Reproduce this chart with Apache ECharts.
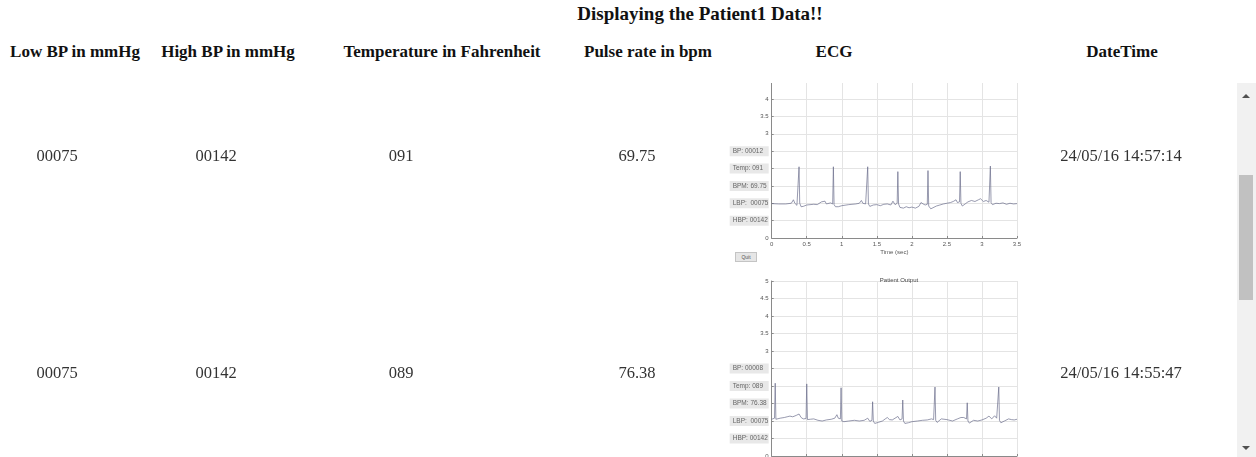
<!DOCTYPE html>
<html><head><meta charset="utf-8">
<script src="https://cdn.jsdelivr.net/npm/echarts@6/dist/echarts.min.js"></script>
<style>
html,body{margin:0;padding:0;width:1256px;height:457px;overflow:hidden;background:#fff;font-family:"Liberation Serif","DejaVu Serif",serif;}
.t{position:absolute;white-space:nowrap;transform:translate(-50%,-50%);}
.hdr{font-weight:bold;font-size:17px;color:#111;}
.ttl{font-weight:bold;font-size:19px;color:#111;}
.val{font-size:16.5px;color:#333;}
#scroll{position:absolute;left:0;top:83px;width:1236px;height:374px;overflow:hidden;}
#chart{position:absolute;left:0;top:-83px;width:1236px;height:560px;}
#quit{position:absolute;left:735px;top:169px;width:20px;height:8px;background:#e6e6e6;border:1px solid #c4c4c4;font:5px "Liberation Sans",sans-serif;color:#555;text-align:center;line-height:8px;}
#sb{position:absolute;left:1237px;top:83px;width:19px;height:374px;background:#f1f1f1;}
#thumb{position:absolute;left:2px;top:92px;width:14px;height:125px;background:#c1c1c1;}
.arr{position:absolute;left:5px;width:0;height:0;border-left:4px solid transparent;border-right:4px solid transparent;}
</style></head>
<body>
<div id="scroll"><div id="chart"></div><div id="quit">Quit</div></div>
<div id="sb"><div class="arr" style="top:11px;border-bottom:4px solid #505050;"></div><div id="thumb"></div><div class="arr" style="top:363px;border-top:4px solid #505050;"></div></div>
<script>
// ---- Data ----
const pageTitle = 'Displaying the Patient1 Data!!';
const headers = ['Low BP in mmHg', 'High BP in mmHg', 'Temperature in Fahrenheit', 'Pulse rate in bpm', 'ECG', 'DateTime'];
const lowBP = ['00075', '00075'];
const highBP = ['00142', '00142'];
const temperature = ['091', '089'];
const pulseRate = ['69.75', '76.38'];
const dateTimes = ['24/05/16 14:57:14', '24/05/16 14:55:47'];
const bpReadings = ['00012', '00008'];
const chartTitle = 'Patient Output';

const ecg1 = [[0.00,0.99],[0.10,0.98],[0.20,0.98],[0.28,1.00],[0.31,1.10],[0.33,1.00],[0.36,0.94],[0.38,0.97],[0.39,2.05],[0.40,1.00],
[0.42,0.90],[0.45,0.91],[0.50,0.95],[0.60,0.97],[0.65,0.96],[0.71,1.04],[0.73,0.99],[0.76,1.06],[0.78,0.98],[0.84,1.01],
[0.87,0.98],[0.88,2.05],[0.89,0.96],[0.91,0.90],[0.95,0.90],[1.00,0.93],[1.10,0.96],[1.20,0.98],[1.25,1.00],[1.28,1.08],
[1.30,1.00],[1.34,0.98],[1.36,1.02],[1.37,2.05],[1.38,0.98],[1.40,0.91],[1.45,0.95],[1.50,0.96],[1.55,0.93],[1.60,0.97],
[1.65,0.98],[1.70,0.95],[1.73,1.06],[1.76,0.96],[1.79,1.00],[1.80,1.91],[1.81,0.98],[1.83,0.88],[1.88,0.86],[1.92,0.90],
[1.96,0.87],[2.00,0.89],[2.05,0.86],[2.10,0.91],[2.13,1.02],[2.16,0.98],[2.19,0.95],[2.22,0.97],[2.23,1.94],[2.24,0.92],
[2.27,0.84],[2.30,0.87],[2.35,0.92],[2.40,0.95],[2.45,0.98],[2.50,1.00],[2.55,1.02],[2.59,1.05],[2.63,1.10],[2.65,1.02],
[2.68,1.04],[2.69,1.91],[2.70,1.00],[2.72,0.92],[2.76,0.98],[2.80,1.04],[2.85,1.08],[2.90,1.05],[2.95,1.10],[2.98,1.13],
[3.02,1.05],[3.06,1.08],[3.10,1.03],[3.12,2.07],[3.13,1.02],[3.15,0.96],[3.20,1.00],[3.25,0.99],[3.30,1.01],[3.35,0.97],
[3.40,1.00],[3.45,0.98],[3.50,0.99]];

const ecg2 = [[0.00,1.05],[0.04,1.08],[0.05,2.08],[0.06,1.05],[0.08,1.10],[0.12,1.08],[0.18,1.10],[0.22,1.12],[0.26,1.14],[0.30,1.12],
[0.35,1.16],[0.39,1.20],[0.42,1.10],[0.45,1.06],[0.49,1.07],[0.50,2.06],[0.51,1.04],[0.55,1.05],[0.60,1.06],[0.66,1.02],
[0.72,1.00],[0.78,1.03],[0.85,1.05],[0.90,1.08],[0.93,1.18],[0.95,1.08],[0.98,1.06],[0.99,1.95],[1.00,1.00],[1.03,0.98],
[1.10,1.00],[1.18,1.02],[1.25,1.00],[1.32,1.02],[1.37,1.08],[1.40,0.99],[1.43,1.02],[1.44,1.55],[1.45,1.00],[1.47,0.93],
[1.52,0.96],[1.58,1.00],[1.62,1.06],[1.65,1.10],[1.68,1.04],[1.72,1.03],[1.76,1.08],[1.80,1.13],[1.83,1.03],[1.86,1.06],
[1.87,1.60],[1.88,1.00],[1.90,0.93],[1.95,0.95],[2.00,0.98],[2.08,1.00],[2.15,1.02],[2.22,1.03],[2.28,1.06],[2.31,1.04],
[2.33,1.97],[2.34,1.02],[2.36,0.96],[2.42,1.06],[2.50,1.04],[2.58,1.00],[2.65,1.06],[2.70,1.10],[2.74,1.10],[2.78,1.06],
[2.79,1.52],[2.80,1.00],[2.82,0.94],[2.88,1.02],[2.94,1.00],[3.00,1.03],[3.06,1.08],[3.10,1.14],[3.14,1.06],[3.18,1.15],
[3.21,1.08],[3.23,1.03],[3.24,1.97],[3.25,1.02],[3.27,0.95],[3.32,1.00],[3.38,1.06],[3.42,1.04],[3.46,1.03],[3.50,1.05]];

// ---- HTML table text ----
function addText(parent, cls, text, x, y) {
  const d = document.createElement('div');
  d.className = 't ' + cls; d.textContent = text;
  d.style.left = x + 'px'; d.style.top = y + 'px';
  parent.appendChild(d);
}
addText(document.body, 'ttl', pageTitle, 700, 14);
const headerX = [75, 228, 442, 648, 834, 1122];
headers.forEach((h, i) => addText(document.body, 'hdr', h, headerX[i], 52));
const scroll = document.getElementById('scroll');
const rowY = [156 - 83, 373 - 83];
const valX = [57, 216, 401, 637, 1121];
for (let r = 0; r < 2; r++) {
  [lowBP[r], highBP[r], temperature[r], pulseRate[r], dateTimes[r]].forEach((v, i) => addText(scroll, 'val', v, valX[i], rowY[r]));
}

// ---- ECharts ----
function boxMap(r) {
  return {
    '2.5': 'BP: ' + bpReadings[r],
    '2': 'Temp: ' + temperature[r],
    '1.5': 'BPM: ' + pulseRate[r],
    '1': 'LBP:  ' + lowBP[r],
    '0.5': 'HBP: ' + highBP[r]
  };
}
const gridCol = '#e4e4e4';
function xAx(i) {
  return {
    type: 'value', gridIndex: i, min: 0, max: 3.5, interval: 0.5,
    axisLine: { lineStyle: { color: '#8a8a8a', width: 1 } },
    axisTick: { inside: true, length: 2, lineStyle: { color: '#8a8a8a' } },
    axisLabel: { fontSize: 6, color: '#555', margin: 3, fontFamily: 'Liberation Sans' },
    splitLine: { show: true, lineStyle: { color: gridCol, width: 1 } },
    name: 'Time (sec)', nameLocation: 'middle', nameGap: 11,
    nameTextStyle: { fontSize: 6, color: '#555', fontFamily: 'Liberation Sans' }
  };
}
function yAx(i) {
  const m = boxMap(i);
  return {
    type: 'value', gridIndex: i, min: 0, max: 5, interval: 0.5,
    axisLine: { show: true, lineStyle: { color: '#8a8a8a', width: 1 } },
    axisTick: { show: true, inside: true, length: 2, lineStyle: { color: '#8a8a8a' } },
    splitLine: { show: true, lineStyle: { color: gridCol, width: 1 } },
    axisLabel: {
      margin: 3, fontFamily: 'Liberation Sans',
      formatter: v => m[String(v)] ? '{box|' + m[String(v)] + '}' : '{n|' + v + '}',
      rich: {
        box: { backgroundColor: '#e8e8e8', color: '#666', fontSize: 6.5, width: 34, height: 8, lineHeight: 8, padding: [1, 2, 1, 3], align: 'left', fontFamily: 'Liberation Sans' },
        n: { fontSize: 6, color: '#555', fontFamily: 'Liberation Sans' }
      }
    }
  };
}
const chart = echarts.init(document.getElementById('chart'), null, { renderer: 'canvas' });
chart.setOption({
  animation: false,
  title: [
    { text: chartTitle, left: 894, top: 59, textAlign: 'center', textStyle: { fontSize: 6, color: '#444', fontWeight: 'normal', fontFamily: 'Liberation Sans' } },
    { text: chartTitle, left: 894, top: 272, textAlign: 'center', textStyle: { fontSize: 6, color: '#444', fontWeight: 'normal', fontFamily: 'Liberation Sans' } }
  ],
  grid: [
    { left: 771.7, top: 64.25, width: 245.3, height: 173.75 },
    { left: 771.7, top: 281, width: 245.3, height: 175 }
  ],
  xAxis: [xAx(0), xAx(1)],
  yAxis: [yAx(0), yAx(1)],
  series: [
    { type: 'line', xAxisIndex: 0, yAxisIndex: 0, data: ecg1, showSymbol: false, lineStyle: { color: '#6b6f8c', width: 0.7 } },
    { type: 'line', xAxisIndex: 1, yAxisIndex: 1, data: ecg2, showSymbol: false, lineStyle: { color: '#6b6f8c', width: 0.7 } }
  ]
});
</script>
</body></html>
